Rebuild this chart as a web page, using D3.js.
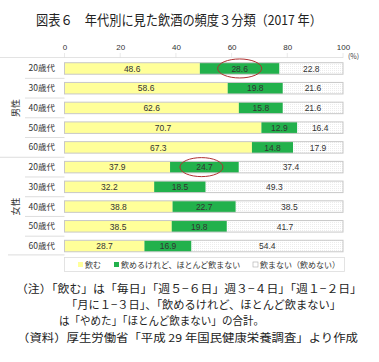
<!DOCTYPE html>
<html>
<head>
<meta charset="utf-8">
<script src="https://cdn.jsdelivr.net/npm/d3@7"></script>
<style>
  body { margin: 0; background: #fff; }
  svg { display: block; }
</style>
</head>
<body>
<div id="chart"></div>
<script>
// データ
const groups = ['男性', '女性'];
const ages = ['20歳代', '30歳代', '40歳代', '50歳代', '60歳代'];
const drink = [48.6, 58.6, 62.6, 70.7, 67.3, 37.9, 32.2, 38.8, 38.5, 28.7];
const rarely = [28.6, 19.8, 15.8, 12.9, 14.8, 24.7, 18.5, 22.7, 19.8, 16.9];
const never = [22.8, 21.6, 21.6, 16.4, 17.9, 37.4, 49.3, 38.5, 41.7, 54.4];
const seriesNames = ['飲む', '飲めるけれど、ほとんど飲まない', '飲まない（飲めない）'];
const xTicks = [0, 20, 40, 60, 80, 100];
const circled = [0, 5]; // 赤丸で囲んだ行（2番目の系列）
const notes = [
  '（注）「飲む」は「毎日」「週５−６日」週３−４日」「週１−２日」',
  '「月に１−３日」、「飲めるけれど、ほとんど飲まない」',
  'は「やめた」「ほとんど飲まない」の合計。',
  '（資料）厚生労働省「平成 29 年国民健康栄養調査」より作成'
];

const W = 379, H = 362;
const colors = ['#ffff99', '#22b14c', 'url(#dots)'];
const jp = '"Noto Sans CJK JP", sans-serif';

const svg = d3.select('#chart').append('svg')
  .attr('width', W).attr('height', H);

const defs = svg.append('defs');
const pat = defs.append('pattern').attr('id', 'dots')
  .attr('width', 2).attr('height', 2).attr('patternUnits', 'userSpaceOnUse');
pat.append('rect').attr('width', 2).attr('height', 2).attr('fill', '#fff');
pat.append('rect').attr('width', 1).attr('height', 1).attr('fill', '#ececec');

// タイトル
svg.append('text')
  .attr('x', 36).attr('y', 25)
  .attr('font-family', jp).attr('font-size', 13.5)
  .attr('textLength', 286).attr('lengthAdjust', 'spacingAndGlyphs')
  .attr('fill', '#222')
  .text('図表６　年代別に見た飲酒の頻度３分類（2017 年）');

const rows = d3.range(drink.length);
const x = d3.scaleLinear().domain([0, 100]).range([64.5, 343]);
const y = d3.scaleBand().domain(rows).range([58.6, 255.9]);
const barH = 11.5;

// 軸
const xAxis = d3.axisTop(x).tickValues(xTicks).tickSize(0).tickPadding(0);
const gx = svg.append('g').attr('transform', 'translate(0,50)').call(xAxis);
gx.select('.domain').remove();
gx.selectAll('text').attr('font-family', 'Liberation Sans, sans-serif')
  .attr('font-size', 8).attr('fill', '#333');

svg.append('text').attr('x', 348).attr('y', 59)
  .attr('font-family', jp).attr('font-size', 7).attr('fill', '#444').text('(%)');

// 目盛線（上部）
svg.selectAll('.grid').data(xTicks).enter().append('line')
  .attr('x1', d => x(d)).attr('x2', d => x(d))
  .attr('y1', 53).attr('y2', 58)
  .attr('stroke', '#e4e4e4').attr('stroke-width', 0.8);
svg.append('line').attr('x1', 0).attr('x2', 343).attr('y1', 57.5).attr('y2', 57.5)
  .attr('stroke', '#dcdcdc').attr('stroke-width', 0.8);

// 行ラベルの区切り線
rows.slice(1).forEach(i => {
  const yy = y(i);
  svg.append('line')
    .attr('x1', i === 5 ? 0 : 25).attr('x2', 64.5)
    .attr('y1', yy).attr('y2', yy)
    .attr('stroke', '#d4d4d4').attr('stroke-width', 0.8);
});
svg.append('line').attr('x1', 8).attr('x2', 64.5)
  .attr('y1', y.range()[1] - 1).attr('y2', y.range()[1] - 1)
  .attr('stroke', '#d4d4d4').attr('stroke-width', 0.8);

// 行ラベル
svg.selectAll('.age').data(rows).enter().append('text')
  .attr('x', 55).attr('y', d => y(d) + y.bandwidth() / 2 + 3)
  .attr('text-anchor', 'end')
  .attr('font-family', jp).attr('font-size', 8.5).attr('fill', '#333')
  .text(d => ages[d % 5]);

// 性別ラベル（縦書き）
groups.forEach((g, gi) => {
  const cy = (y(gi * 5) + y(gi * 5 + 4) + y.bandwidth()) / 2;
  svg.append('text')
    .attr('transform', `translate(16,${cy}) rotate(-90)`)
    .attr('text-anchor', 'middle').attr('dy', 3)
    .attr('font-family', jp).attr('font-size', 9).attr('fill', '#333')
    .text(g);
});

// 積み上げ棒
const series = [drink, rarely, never];
rows.forEach(i => {
  let acc = 0;
  const cy = y(i) + y.bandwidth() / 2;
  series.forEach((s, si) => {
    const v = s[i];
    svg.append('rect')
      .attr('x', x(acc)).attr('width', x(acc + v) - x(acc))
      .attr('y', cy - barH / 2).attr('height', barH)
      .attr('fill', colors[si]);
    svg.append('text')
      .attr('x', x(acc + v / 2)).attr('y', cy + 3.2)
      .attr('text-anchor', 'middle')
      .attr('font-family', 'Liberation Sans, sans-serif').attr('font-size', 8.5)
      .attr('fill', '#333')
      .text(v.toFixed(1));
    acc += v;
  });
  svg.append('rect')
    .attr('x', x(0)).attr('width', x(acc) - x(0))
    .attr('y', cy - barH / 2).attr('height', barH)
    .attr('fill', 'none').attr('stroke', '#c8c8c8').attr('stroke-width', 1);
});

// 赤丸
circled.forEach(i => {
  svg.append('ellipse')
    .attr('cx', x(drink[i] + rarely[i] / 2) - (i === 0 ? 0 : 3))
    .attr('cy', y(i) + y.bandwidth() / 2)
    .attr('rx', i === 0 ? 22 : 21.5).attr('ry', 9.5)
    .attr('fill', 'none').attr('stroke', '#b03030').attr('stroke-width', 1);
});

// 凡例
const lg = svg.append('g');
lg.append('rect').attr('x', 64.5).attr('y', 257.5).attr('width', 280).attr('height', 14)
  .attr('fill', '#fff').attr('stroke', '#dcdcdc').attr('stroke-width', 0.8);
const legX = [78, 114, 253];
seriesNames.forEach((n, i) => {
  lg.append('rect').attr('x', legX[i]).attr('y', 262).attr('width', 5).attr('height', 5)
    .attr('fill', i === 2 ? '#fff' : colors[i])
    .attr('stroke', i === 2 ? '#aaa' : 'none').attr('stroke-width', 0.6);
  lg.append('text').attr('x', legX[i] + 7).attr('y', 267.5)
    .attr('font-family', jp).attr('font-size', 8).attr('fill', '#333')
    .text(n);
});

// 注記
const noteX = [16, 66, 59, 17];
const noteY = [293, 309, 325, 342];
const noteLen = [346, 275, 205, 341];
notes.forEach((n, i) => {
  svg.append('text')
    .attr('x', noteX[i]).attr('y', noteY[i])
    .attr('font-family', jp).attr('font-size', 11).attr('fill', '#222')
    .attr('textLength', noteLen[i]).attr('lengthAdjust', 'spacingAndGlyphs')
    .text(n);
});
</script>
</body>
</html>
